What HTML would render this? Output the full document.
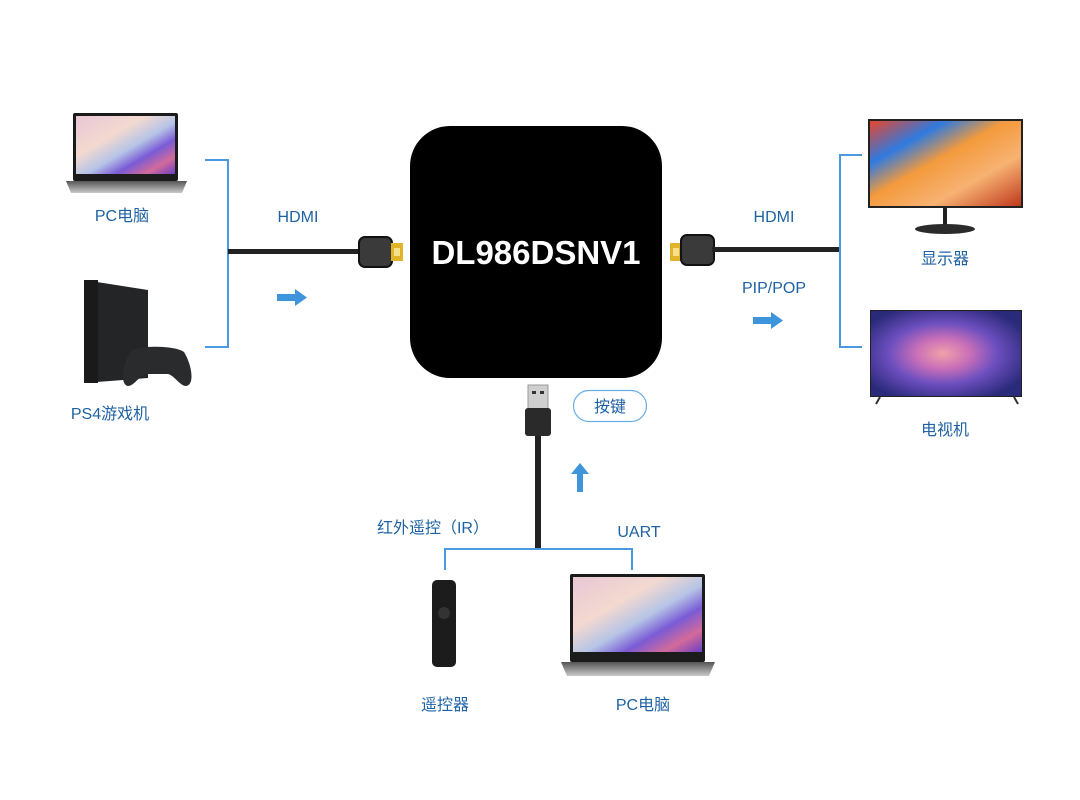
<!DOCTYPE html>
<html><head><meta charset="utf-8"><style>
html,body{margin:0;padding:0;background:#fff;width:1080px;height:800px;overflow:hidden}
svg{display:block}
text{font-family:"Liberation Sans","Noto Sans CJK SC",sans-serif;fill:#1f62a3;font-size:16px}
</style></head><body>
<svg width="1080" height="800" viewBox="0 0 1080 800" xmlns="http://www.w3.org/2000/svg">
<defs>
<linearGradient id="lap" x1="0" y1="0" x2="1" y2="1">
<stop offset="0" stop-color="#e8c7d6"/><stop offset="0.35" stop-color="#f3d9d0"/><stop offset="0.55" stop-color="#b6c4e6"/><stop offset="0.7" stop-color="#7a5bd6"/><stop offset="0.85" stop-color="#d36a9a"/><stop offset="1" stop-color="#6a3fc4"/>
</linearGradient>
<linearGradient id="mon" x1="0" y1="0" x2="1" y2="1">
<stop offset="0" stop-color="#e8452b"/><stop offset="0.25" stop-color="#2f7ae0"/><stop offset="0.45" stop-color="#f39a3c"/><stop offset="0.7" stop-color="#f7b272"/><stop offset="1" stop-color="#c0381e"/>
</linearGradient>
<radialGradient id="tv" cx="0.48" cy="0.5" r="0.6">
<stop offset="0" stop-color="#f1a0a8"/><stop offset="0.3" stop-color="#c86fb8"/><stop offset="0.6" stop-color="#6d4fbf"/><stop offset="1" stop-color="#2a2a7a"/>
</radialGradient>
<linearGradient id="base" x1="0" y1="0" x2="0" y2="1"><stop offset="0" stop-color="#555"/><stop offset="1" stop-color="#c9c9c9"/></linearGradient>
</defs>

<!-- left laptop -->
<rect x="73" y="113" width="105" height="68" rx="2" fill="#1b1b1b"/>
<rect x="76" y="116" width="99" height="58" fill="url(#lap)"/>
<path d="M66 181 H187 L182 193 H71 Z" fill="url(#base)"/>
<text x="122" y="221" text-anchor="middle">PC电脑</text>

<!-- PS4 -->
<path d="M84 280 L148 290 L148 378 L84 383 Z" fill="#242526"/>
<rect x="84" y="280" width="14" height="103" fill="#1a1a1a"/>
<path d="M130 352 C135 345 175 345 184 352 C192 365 195 385 186 386 C180 386 175 376 168 374 H146 C139 376 134 386 128 386 C120 385 122 365 130 352 Z" fill="#2a2b2d"/>
<text x="110" y="419" text-anchor="middle">PS4游戏机</text>

<!-- left bracket -->
<path d="M205 160 H228 V347 H205" fill="none" stroke="#4b9ae0" stroke-width="2"/>
<rect x="228" y="249" width="134" height="5" fill="#222"/>
<text x="298" y="222" text-anchor="middle">HDMI</text>
<path d="M277 294 H295 V289 L307 297.5 L295 306 V301 H277 Z" fill="#3e95dc"/>

<!-- left HDMI plug -->
<rect x="359" y="237" width="33" height="30" rx="6" fill="#3a3a3a" stroke="#111" stroke-width="2"/>
<rect x="391" y="243" width="12" height="18" fill="#e0b52a"/>
<rect x="394" y="248" width="6" height="8" fill="#f7e08a"/>

<!-- box -->
<rect x="410" y="126" width="252" height="252" rx="40" fill="#000"/>
<text x="536" y="264" text-anchor="middle" style="fill:#fff;font-size:33px;font-weight:bold">DL986DSNV1</text>

<!-- right HDMI plug -->
<rect x="670" y="243" width="12" height="18" fill="#e0b52a"/>
<rect x="673" y="248" width="6" height="8" fill="#f7e08a"/>
<rect x="681" y="235" width="33" height="30" rx="6" fill="#3a3a3a" stroke="#111" stroke-width="2"/>
<rect x="712" y="247" width="128" height="5" fill="#222"/>
<text x="774" y="222" text-anchor="middle">HDMI</text>
<text x="774" y="293" text-anchor="middle">PIP/POP</text>
<path d="M753 317 H771 V312 L783 320.5 L771 329 V324 H753 Z" fill="#3e95dc"/>

<!-- right bracket -->
<path d="M862 155 H840 V347 H862" fill="none" stroke="#4b9ae0" stroke-width="2"/>

<!-- monitor -->
<rect x="868" y="119" width="155" height="89" fill="#222"/>
<rect x="870" y="121" width="151" height="85" fill="url(#mon)"/>
<rect x="943" y="208" width="4" height="18" fill="#222"/>
<ellipse cx="945" cy="229" rx="30" ry="5" fill="#2b2b2b"/>
<text x="945" y="264" text-anchor="middle">显示器</text>

<!-- TV -->
<rect x="870" y="310" width="152" height="87" fill="#222"/>
<rect x="871" y="311" width="150" height="85" fill="url(#tv)"/>
<path d="M876 404 L880 397 M1014 397 L1018 404" stroke="#333" stroke-width="2"/>
<text x="945" y="435" text-anchor="middle">电视机</text>

<!-- USB -->
<rect x="528" y="385" width="20" height="24" fill="#cfcfcf" stroke="#999"/>
<rect x="532" y="391" width="4" height="3" fill="#333"/><rect x="540" y="391" width="4" height="3" fill="#333"/>
<rect x="525" y="408" width="26" height="28" rx="3" fill="#2a2a2a"/>
<rect x="535" y="436" width="6" height="113" fill="#222"/>

<!-- button pill -->
<rect x="573.5" y="390.5" width="73" height="31" rx="15.5" fill="#fff" stroke="#6aaee8" stroke-width="1.2"/>
<text x="610" y="412" text-anchor="middle">按键</text>

<path d="M580 463 L571 474 H577 V492 H583 V474 H589 Z" fill="#3e95dc"/>

<!-- bottom bracket -->
<path d="M445 570 V549 H632 V570" fill="none" stroke="#4b9ae0" stroke-width="2"/>
<text x="433" y="533" text-anchor="middle">红外遥控（IR）</text>
<text x="639" y="537" text-anchor="middle">UART</text>

<!-- remote -->
<rect x="432" y="580" width="24" height="87" rx="5" fill="#1c1c1c"/>
<circle cx="444" cy="613" r="6" fill="#333"/>
<text x="445" y="710" text-anchor="middle">遥控器</text>

<!-- bottom laptop -->
<rect x="570" y="574" width="135" height="88" rx="2" fill="#1b1b1b"/>
<rect x="573" y="577" width="129" height="75" fill="url(#lap)"/>
<path d="M561 662 H715 L709 676 H567 Z" fill="url(#base)"/>
<text x="643" y="710" text-anchor="middle">PC电脑</text>
</svg>
</body></html>
